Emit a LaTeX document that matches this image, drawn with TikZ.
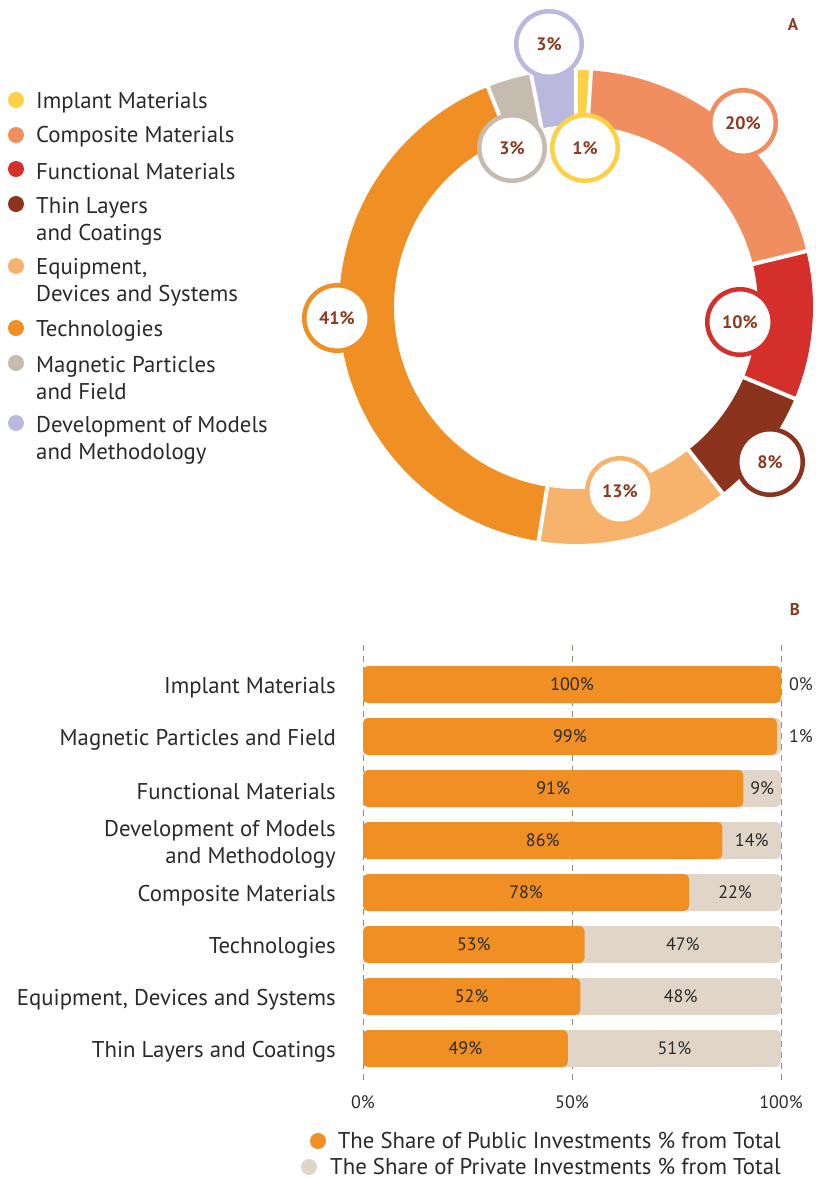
\documentclass[tikz,border=0pt]{standalone}
\usepackage{fontspec}
\setmainfont{PT Sans}
\definecolor{cImp}{HTML}{FDD145}
\definecolor{cComp}{HTML}{F18E60}
\definecolor{cFunc}{HTML}{D42F2B}
\definecolor{cThin}{HTML}{8C331E}
\definecolor{cEquip}{HTML}{F7B36B}
\definecolor{cTech}{HTML}{F08F24}
\definecolor{cMag}{HTML}{C5BBAE}
\definecolor{cMod}{HTML}{BAB8DD}
\definecolor{cPriv}{HTML}{E1D5C8}
\definecolor{cText}{HTML}{2A2A2A}
\definecolor{cLab}{HTML}{8B3A1F}
\definecolor{cGrid}{HTML}{7E9270}
\newcommand\donutseg[3]{\fill[#1,shift={(576,-307)}] (#2:237) arc[start angle=#2,end angle=#3,radius=237] -- (#3:182) arc[start angle=#3,end angle=#2,radius=182] -- cycle;}
\newcommand\donutsep[1]{\draw[white,line width=4,shift={(576,-307)}] (#1:178) -- (#1:241);}
\newcommand\barrow[6]{% #1 y, #2 pub, #3 priv, #4 name, #5 priv label x
  \pgfmathsetmacro\xe{363+4.18*#2}
  \fill[cPriv,rounded corners=5] (363,{-#1+18.5}) rectangle (781,{-#1-18.5});
  \fill[cTech,rounded corners=5] (363,{-#1+18.5}) rectangle (\xe,{-#1-18.5});
  \node[pct] (#4p) at ({(363+\xe)/2},-#1) {#2\%};
  \node[pct] (#4q) at ({#5},-#1) {#3\%};
  \node[rowlab] (#4l) at (336,{-#1-3.5}) {#6};
}
\tikzset{
  leg/.style={anchor=west,inner sep=0,text=cText,font=\fontsize{22.8}{27}\selectfont,align=left},
  dot/.style={circle,fill=#1,minimum size=16,inner sep=0},
  lab/.style={circle,draw=#1,line width=4.5,fill=white,minimum size=65.5,inner sep=0,text=cLab,font=\fontsize{18}{20}\selectfont\bfseries},
  pct/.style={inner sep=0,text=cText,font=\fontsize{18}{20}\selectfont},
  rowlab/.style={anchor=east,inner sep=0,text=cText,font=\fontsize{22.8}{27}\selectfont,align=right},
  grid/.style={cGrid,line width=0.9,dash pattern=on 6 off 5},
  panel/.style={inner sep=0,text=cLab,font=\fontsize{17}{20}\selectfont\bfseries}
}
\begin{document}
\begin{tikzpicture}[x=1pt,y=1pt]
\useasboundingbox (0,0) rectangle (816,-1179);
% ---------- panel A ----------
\node[panel] (A) at (793,-25) {A};
\donutseg{cImp}{90}{86.364}
\donutseg{cComp}{86.364}{13.636}
\donutseg{cFunc}{13.636}{-22.727}
\donutseg{cThin}{-22.727}{-51.818}
\donutseg{cEquip}{-51.818}{-99.091}
\donutseg{cTech}{-99.091}{-248.182}
\donutseg{cMag}{-248.182}{-259.091}
\donutseg{cMod}{-259.091}{-270}
\foreach \a in {90,86.364,13.636,-22.727,-51.818,-99.091,-248.182,-259.091}{\donutsep{\a}}
\node[lab=cMod] (l3m) at (549,-44) {3\%};
\node[lab=cMag] (l3g) at (512,-148) {3\%};
\node[lab=cImp] (l1) at (585,-148) {1\%};
\node[lab=cComp] (l20) at (743,-123) {20\%};
\node[lab=cFunc] (l10) at (740,-322) {10\%};
\node[lab=cThin] (l8) at (770,-462) {8\%};
\node[lab=cEquip] (l13) at (620,-491) {13\%};
\node[lab=cTech] (l41) at (337,-318) {41\%};
% legend
\node[dot=cImp] (d1) at (16,-100) {};
\node[leg] (t1) at (36,-103) {Implant Materials};
\node[dot=cComp] (d2) at (16,-135) {};
\node[leg] (t2) at (36,-137) {Composite Materials};
\node[dot=cFunc] (d3) at (16,-169) {};
\node[leg] (t3) at (36,-171.5) {Functional Materials};
\node[dot=cThin] (d4) at (16,-204) {};
\node[leg] (t4) at (36,-221) {Thin Layers\\and Coatings};
\node[dot=cEquip] (d5) at (16,-266) {};
\node[leg] (t5) at (36,-282.5) {Equipment,\\Devices and Systems};
\node[dot=cTech] (d6) at (16,-328) {};
\node[leg] (t6) at (36,-330.5) {Technologies};
\node[dot=cMag] (d7) at (16,-363) {};
\node[leg] (t7) at (36,-378.5) {Magnetic Particles\\and Field};
\node[dot=cMod] (d8) at (16,-423) {};
\node[leg] (t8) at (36,-440.5) {Development of Models\\and Methodology};
% ---------- panel B ----------
\node[panel] (B) at (795,-610) {B};
\draw[grid] (363,-645) -- (363,-1085);
\draw[grid] (572,-645) -- (572,-1085);
\draw[grid] (781,-645) -- (781,-1085);
\barrow{684.5}{100}{0}{r1}{801}{Implant Materials}
\barrow{736.5}{99}{1}{r2}{801}{Magnetic Particles and Field}
\barrow{788.5}{91}{9}{r3}{(\xe+781)/2}{Functional Materials}
\barrow{840.5}{86}{14}{r4}{(\xe+781)/2}{Development of Models\\and Methodology}
\barrow{892.5}{78}{22}{r5}{(\xe+781)/2}{Composite Materials}
\barrow{944.5}{53}{47}{r6}{(\xe+781)/2}{Technologies}
\barrow{996.5}{52}{48}{r7}{(\xe+781)/2}{Equipment, Devices and Systems}
\barrow{1048.5}{49}{51}{r8}{(\xe+781)/2}{Thin Layers and Coatings}
\node[pct] (x0) at (363,-1102) {0\%};
\node[pct] (x50) at (572,-1102) {50\%};
\node[pct] (x100) at (781,-1102) {100\%};
\node[dot=cTech] (bd1) at (318,-1141) {};
\node[leg,anchor=east] (bt1) at (781,-1140) {The Share of Public Investments \% from Total};
\node[dot=cPriv] (bd2) at (309,-1167) {};
\node[leg,anchor=east] (bt2) at (781,-1166.5) {The Share of Private Investments \% from Total};
\end{tikzpicture}
\end{document}
